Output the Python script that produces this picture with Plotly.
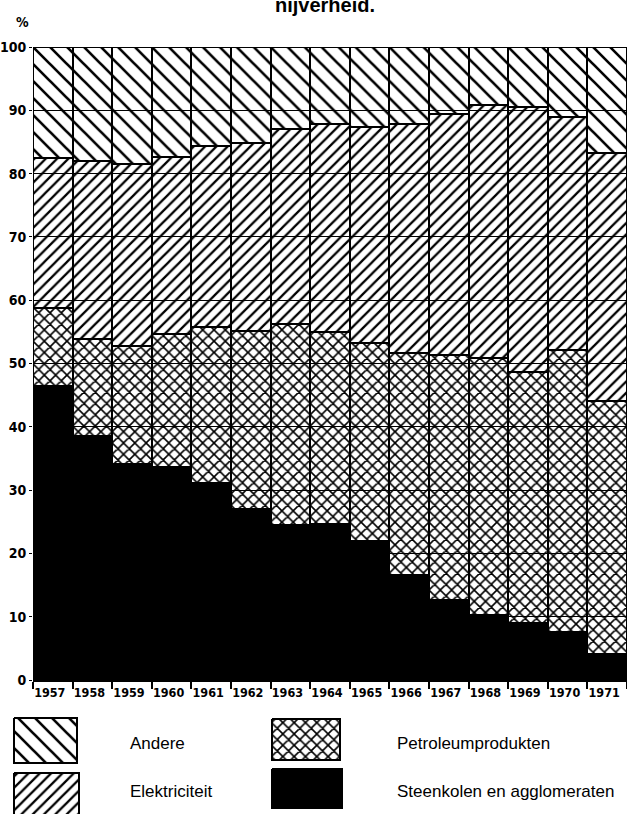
import plotly.graph_objects as go

years = ["1957", "1958", "1959", "1960", "1961", "1962", "1963", "1964",
         "1965", "1966", "1967", "1968", "1969", "1970", "1971"]
steenkolen = [46.4, 38.5, 34.2, 33.6, 31.2, 27.0, 24.5, 24.6, 21.9, 16.6, 12.6, 10.3, 9.0, 7.6, 4.1]
petroleum = [12.3, 15.3, 18.5, 21.1, 24.6, 28.1, 31.7, 30.4, 31.4, 35.0, 38.7, 40.6, 39.7, 44.6, 40.0]
elektriciteit = [23.7, 28.2, 28.8, 28.0, 28.5, 29.8, 30.8, 32.9, 34.1, 36.2, 38.1, 39.9, 41.8, 36.7, 39.1]
andere = [17.6, 18.0, 18.5, 17.3, 15.7, 15.1, 13.0, 12.1, 12.6, 12.2, 10.6, 9.2, 9.5, 11.1, 16.8]
y_ticks = [0, 10, 20, 30, 40, 50, 60, 70, 80, 90, 100]

W, H = 627, 814
CLEAR = "rgba(0,0,0,0)"
NARROW = "DejaVu Sans Condensed, Liberation Sans Narrow, Arial Narrow, sans-serif"
SANS = "Liberation Sans, Arial, sans-serif"

def pat(shape, size, solidity):
    return dict(shape=shape, size=size, solidity=solidity, fgcolor="black",
                fgopacity=1, bgcolor=CLEAR, fillmode="overlay")

P_AND = pat("\\", 12, 0.22)
P_ELE = pat("/", 8, 0.28)
P_PET = pat("x", 8, 0.36)

series = [
    ("Steenkolen en agglomeraten", steenkolen, "black", None),
    ("Petroleumprodukten", petroleum, CLEAR, P_PET),
    ("Elektriciteit", elektriciteit, CLEAR, P_ELE),
    ("Andere", andere, CLEAR, P_AND),
]

fig = go.Figure()
for name, vals, col, p in series:
    marker = dict(color=col, line=dict(color="black", width=2))
    if p:
        marker["pattern"] = p
    fig.add_trace(go.Bar(x=years, y=vals, name=name, marker=marker,
                         showlegend=False, hoverinfo="skip"))

def py(p):
    return (H - p) / H

def px(p):
    return p / W

# legend swatches drawn on a helper axis in pixel units
def rect(x0, x1, y0, y1, fill, p):
    kw = dict(x=[x0, x1, x1, x0, x0], y=[y0, y0, y1, y1, y0], mode="lines",
              fill="toself", line=dict(color="black", width=2),
              xaxis="x2", yaxis="y2", showlegend=False, hoverinfo="skip")
    if p:
        kw["fillpattern"] = p
        kw["fillcolor"] = CLEAR
    else:
        kw["fillcolor"] = fill
    return go.Scatter(**kw)

fig.add_trace(rect(14, 77, 718, 763, None, P_AND))
fig.add_trace(rect(14, 79, 773, 820, None, P_ELE))
fig.add_trace(rect(272, 340, 719, 760, None, P_PET))
fig.add_trace(rect(272, 342, 769, 808, "black", None))

fig.update_layout(
    width=W, height=H,
    margin=dict(l=0, r=0, t=0, b=0, autoexpand=False),
    barmode="stack", bargap=0,
    paper_bgcolor="white", plot_bgcolor="white",
    xaxis=dict(domain=[px(33), 1], type="category", tickson="boundaries",
               ticks="outside", ticklen=7, tickwidth=1.5, tickcolor="black",
               showline=True, linecolor="black", linewidth=2,
               tickangle=0, automargin=False, ticklabelshift=-3,
               tickfont=dict(family=NARROW, size=12.5, color="black", weight="bold"),
               showgrid=False),
    yaxis=dict(domain=[py(680), py(47)], range=[0, 100], tickvals=y_ticks,
               ticks="outside", ticklen=3, tickcolor="black", automargin=False,
               showgrid=True, gridcolor="black", gridwidth=1,
               zeroline=False, showline=False,
               tickfont=dict(family=NARROW, size=14, color="black", weight="bold")),
    xaxis2=dict(domain=[0, 1], range=[0, W], visible=False, anchor="y2"),
    yaxis2=dict(domain=[0, py(700)], range=[H, 700], visible=False, anchor="x2"),
)

ann = [
    dict(text="<b>nijverheid.</b>", x=px(325), y=py(5), font=dict(family=SANS, size=20, color="black"),
         xanchor="center", yanchor="middle"),
    dict(text="<b>%</b>", x=px(22), y=py(22), font=dict(family=NARROW, size=14, color="black"),
         xanchor="center", yanchor="middle"),
    dict(text="Andere", x=px(128), y=py(743), xanchor="left", yanchor="middle",
         font=dict(family=SANS, size=17, color="black")),
    dict(text="Elektriciteit", x=px(128), y=py(791), xanchor="left", yanchor="middle",
         font=dict(family=SANS, size=17, color="black")),
    dict(text="Petroleumprodukten", x=px(395), y=py(743), xanchor="left", yanchor="middle",
         font=dict(family=SANS, size=17, color="black")),
    dict(text="Steenkolen en agglomeraten", x=px(395), y=py(791), xanchor="left", yanchor="middle",
         font=dict(family=SANS, size=17, color="black")),
]
for a in ann:
    a.update(xref="paper", yref="paper", showarrow=False)
fig.update_layout(annotations=ann)

# remove the browser's default 8px page margin so the figure fills the window
fig.write_html("out.html", config={"displayModeBar": False},
               post_script="document.body.style.margin='0';")
